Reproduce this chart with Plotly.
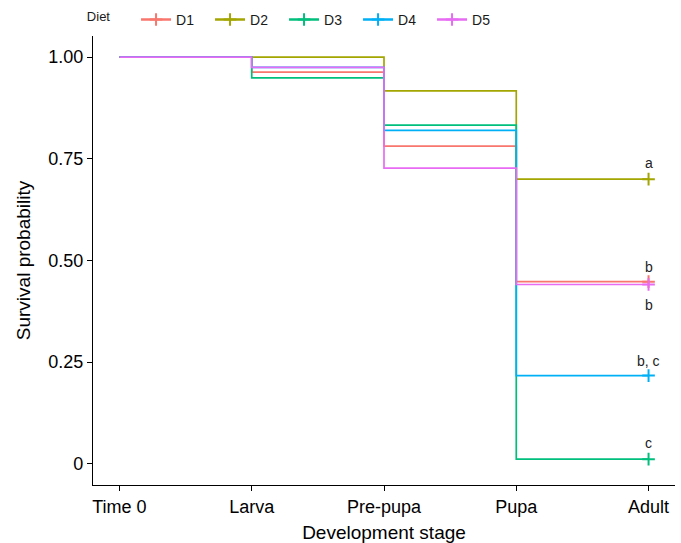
import plotly.graph_objects as go

stages = ["Time 0", "Larva", "Pre-pupa", "Pupa", "Adult"]
diets = ["D1", "D2", "D3", "D4", "D5"]
colors = ["#F8766D", "#A3A500", "#00BF7D", "#00B0F6", "#E76BF3"]

surv_D1 = [1.0, 0.963, 0.781, 0.448, 0.448]
surv_D2 = [1.0, 1.0, 0.917, 0.700, 0.700]
surv_D3 = [1.0, 0.949, 0.833, 0.0115, 0.0115]
surv_D4 = [1.0, 0.975, 0.820, 0.217, 0.217]
surv_D5 = [1.0, 0.975, 0.727, 0.441, 0.441]
series = [surv_D1, surv_D2, surv_D3, surv_D4, surv_D5]

sig_labels = ["a", "b", "b", "b, c", "c"]
sig_y = [0.74, 0.485, 0.39, 0.254, 0.052]

yticks = [0, 0.25, 0.5, 0.75, 1.0]
ytick_text = ["0", "0.25", "0.50", "0.75", "1.00"]

FONT = "Liberation Sans, Arial, sans-serif"
xpos = list(range(len(stages)))

fig = go.Figure()
for name, vals, col in zip(diets, series, colors):
    fig.add_trace(go.Scatter(
        x=xpos, y=vals, mode="lines", line=dict(color=col, width=1.7, shape="hv"),
        showlegend=False, legendgroup=name, hoverinfo="skip"))
for name, vals, col in zip(diets, series, colors):
    fig.add_trace(go.Scatter(
        x=[xpos[-1]], y=[vals[-1]], mode="lines+markers", name=name, legendgroup=name,
        line=dict(color=col, width=2.5),
        marker=dict(symbol="cross-thin", size=9, color=col, line=dict(color=col, width=2))))

for lab, yy in zip(sig_labels, sig_y):
    fig.add_annotation(x=xpos[-1], y=yy, text=lab, showarrow=False,
                       font=dict(family=FONT, size=14, color="#222222"))

fig.update_layout(
    width=681, height=543,
    margin=dict(l=93, r=6, t=36, b=58, autoexpand=False),
    paper_bgcolor="white", plot_bgcolor="white",
    font=dict(family=FONT, color="#1a1a1a"),
    showlegend=True,
    legend=dict(orientation="h", x=-0.014, xanchor="left", y=1.036, yanchor="middle",
                title=dict(text="Diet&nbsp;&nbsp;&nbsp;&nbsp;&nbsp;", font=dict(size=13)), font=dict(size=14),
                entrywidth=29, bgcolor="rgba(0,0,0,0)"),
)
fig.update_xaxes(range=[-0.2, 4.2], tickvals=xpos, ticktext=stages, automargin=False,
                 showline=True, linecolor="black", linewidth=1.3, ticks="outside",
                 ticklen=5, tickcolor="black", showgrid=False, zeroline=False,
                 tickfont=dict(size=18, color="black"),
                 title=dict(text="Development stage", font=dict(size=19, color="black"), standoff=10))
fig.update_yaxes(range=[-0.052, 1.052], tickvals=yticks, ticktext=ytick_text, automargin=False,
                 showline=True, linecolor="black", linewidth=1.3, ticks="outside",
                 ticklen=5, tickcolor="black", showgrid=False, zeroline=False,
                 tickfont=dict(size=18, color="black"),
                 title=dict(text="Survival probability", font=dict(size=19, color="black"), standoff=12))

fig.write_html("out.html", config={"displayModeBar": False},
               post_script="document.body.style.margin='0';document.body.style.overflow='hidden';")
